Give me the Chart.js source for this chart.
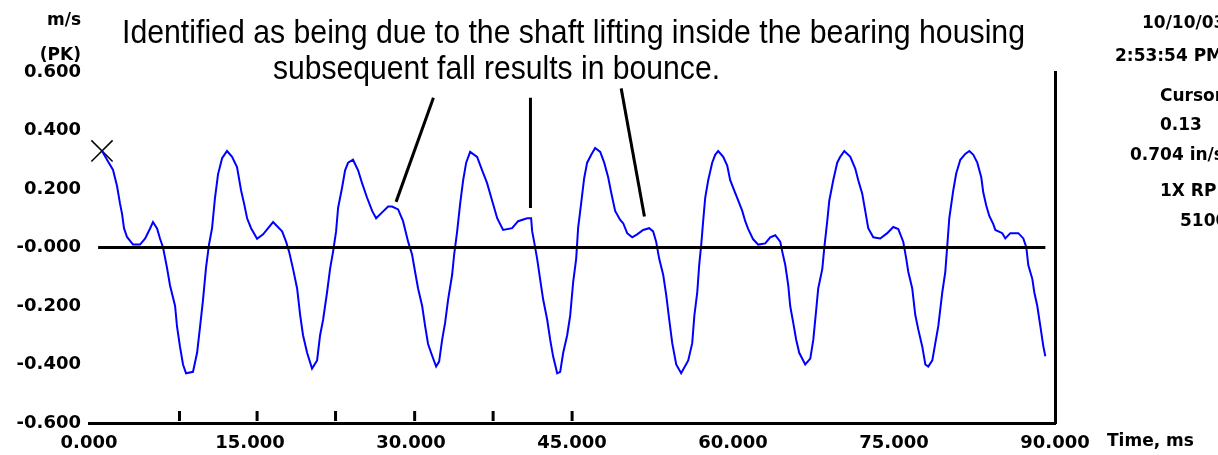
<!DOCTYPE html>
<html>
<head>
<meta charset="utf-8">
<script src="https://cdn.jsdelivr.net/npm/chart.js@4.4.1/dist/chart.umd.min.js"></script>
<style>
  html, body { margin: 0; padding: 0; background: #fff; }
  #wrap { width: 1218px; height: 455px; }
</style>
</head>
<body>
<div id="wrap"><canvas id="chart" width="1218" height="455"></canvas></div>
<script>
// velocity waveform
const timeMs = [
  1.21, 1.68, 2.24, 2.61, 2.89, 3.08, 3.26, 3.54, 4.10, 4.75, 5.22, 5.69, 5.96, 6.34, 6.62, 6.90,
  7.27, 7.55, 8.02, 8.20, 8.48, 8.76, 9.04, 9.69, 10.07, 10.35, 10.62, 10.90, 11.18, 11.46, 11.74,
  12.02, 12.40, 12.86, 13.33, 13.79, 14.17, 14.45, 14.73, 15.10, 15.66, 16.22, 17.15, 17.99, 18.36,
  18.64, 19.01, 19.39, 19.67, 19.94, 20.32, 20.78, 21.25, 21.53, 21.81, 22.18, 22.46, 22.74, 23.02,
  23.21, 23.58, 23.86, 24.14, 24.60, 25.07, 25.44, 25.91, 26.38, 26.75, 27.31, 27.87, 28.24, 28.80,
  29.26, 29.73, 30.10, 30.38, 30.66, 31.04, 31.32, 31.59, 31.97, 32.34, 32.62, 32.90, 33.18, 33.46,
  33.83, 34.02, 34.30, 34.58, 34.86, 35.14, 35.51, 36.16, 36.63, 37.09, 37.56, 38.03, 38.58, 39.42,
  39.98, 40.82, 41.19, 41.29, 41.47, 41.75, 42.03, 42.31, 42.69, 42.97, 43.24, 43.62, 43.90, 44.18,
  44.55, 44.83, 45.11, 45.39, 45.57, 45.85, 46.13, 46.41, 46.79, 47.16, 47.63, 48.00, 48.37, 48.65,
  49.02, 49.49, 49.77, 50.14, 50.61, 51.07, 51.63, 52.19, 52.56, 52.84, 53.12, 53.50, 53.78, 54.06,
  54.34, 54.71, 55.17, 55.83, 56.20, 56.40, 56.67, 56.85, 57.04, 57.22, 57.41, 57.69, 58.06, 58.34,
  58.62, 59.09, 59.46, 59.74, 60.11, 60.39, 60.86, 61.14, 61.42, 61.88, 62.35, 63.00, 63.47, 63.94,
  64.40, 64.59, 64.87, 65.15, 65.33, 65.61, 65.89, 66.17, 66.73, 67.20, 67.48, 67.76, 67.94, 68.32,
  68.50, 68.78, 68.97, 69.34, 69.71, 69.99, 70.37, 70.93, 71.39, 71.67, 72.04, 72.32, 72.60, 73.07,
  73.72, 74.37, 74.93, 75.40, 75.86, 76.14, 76.33, 76.70, 76.98, 77.26, 77.64, 77.92, 78.19, 78.57,
  78.85, 79.13, 79.50, 79.78, 79.97, 80.15, 80.52, 80.80, 81.18, 81.64, 82.02, 82.39, 82.76, 83.13,
  83.32, 83.60, 83.88, 84.25, 84.44, 85.09, 85.37, 85.84, 86.58, 87.05, 87.33, 87.51, 87.89, 88.07,
  88.35, 88.63, 88.91, 89.10
];
const velocity = [
  0.330, 0.300, 0.265, 0.210, 0.150, 0.115, 0.066, 0.036, 0.010, 0.010, 0.030, 0.065, 0.087, 0.065, 0.030, 0.000,
  -0.070, -0.130, -0.200, -0.270, -0.340, -0.400, -0.430, -0.425, -0.360, -0.270, -0.180, -0.070, 0.010, 0.065, 0.170,
  0.250, 0.305, 0.330, 0.310, 0.275, 0.195, 0.150, 0.100, 0.066, 0.030, 0.045, 0.087, 0.055, 0.020,
  -0.014, -0.073, -0.140, -0.230, -0.300, -0.360, -0.414, -0.386, -0.300, -0.247, -0.153, -0.073, -0.014, 0.055,
  0.136, 0.205, 0.264, 0.290, 0.300, 0.264, 0.220, 0.170, 0.125, 0.100, 0.120, 0.140, 0.140, 0.130,
  0.090, 0.020, -0.024, -0.083, -0.140, -0.200, -0.270, -0.330, -0.370, -0.407, -0.390, -0.316, -0.257, -0.177,
  -0.094, -0.024, 0.055, 0.150, 0.230, 0.290, 0.327, 0.310, 0.264, 0.220, 0.160, 0.100, 0.060, 0.066,
  0.090, 0.100, 0.100, 0.055, 0.020, -0.038, -0.108, -0.177, -0.247, -0.316, -0.372, -0.430, -0.425, -0.360,
  -0.300, -0.233, -0.118, -0.038, 0.066, 0.150, 0.236, 0.290, 0.317, 0.340, 0.327, 0.290, 0.240, 0.188,
  0.125, 0.094, 0.083, 0.049, 0.035, 0.045, 0.060, 0.066, 0.055, 0.020, -0.038, -0.094, -0.163, -0.247,
  -0.327, -0.400, -0.430, -0.386, -0.327, -0.233, -0.153, -0.060, 0.010, 0.090, 0.170, 0.230, 0.290, 0.317,
  0.330, 0.310, 0.280, 0.230, 0.195, 0.170, 0.125, 0.090, 0.063, 0.028, 0.010, 0.014, 0.035, 0.042,
  0.020, -0.014, -0.060, -0.130, -0.200, -0.257, -0.316, -0.360, -0.400, -0.380, -0.316, -0.210, -0.140, -0.073,
  -0.003, 0.090, 0.160, 0.230, 0.290, 0.310, 0.330, 0.310, 0.270, 0.230, 0.184, 0.125, 0.066, 0.035,
  0.031, 0.049, 0.070, 0.063, 0.020, -0.038, -0.083, -0.140, -0.230, -0.280, -0.340, -0.400, -0.407, -0.386,
  -0.327, -0.268, -0.153, -0.083, 0.010, 0.100, 0.195, 0.254, 0.300, 0.320, 0.330, 0.317, 0.290, 0.240,
  0.188, 0.143, 0.108, 0.080, 0.060, 0.049, 0.031, 0.049, 0.049, 0.031, 0.000, -0.060, -0.108, -0.153,
  -0.200, -0.268, -0.337, -0.372
];

const xTickValues = [0, 15, 30, 45, 60, 75, 90];
const yTickValues = [0.6, 0.4, 0.2, 0, -0.2, -0.4, -0.6];
const yTickLabels = ['0.600', '0.400', '0.200', '-0.000', '-0.200', '-0.400', '-0.600'];

// once-per-rev marks along the bottom of the plot
const revMarksMs = [8.43, 15.66, 22.97, 30.34, 37.65, 45.01];
const revMarkLevel = -0.576;
const zeroLineMs = [0.85, 89.1];

const noteLines = [
  'Identified as being due to the shaft lifting inside the bearing housing',
  'subsequent fall results in bounce.'
];
// pointer lines from the note down to the bounces: [start, end]
const noteArrowsMs = [[32.09, 28.61], [41.13, 41.13], [49.58, 51.75]];
const noteArrowsVal = [[0.512, 0.156], [0.512, 0.135], [0.544, 0.106]];

const yAxisTitle = ['m/s', '(PK)'];
const xAxisTitle = 'Time, ms';
const sideInfo = ['10/10/03', '2:53:54 PM', 'Cursor', '0.13', '0.704 in/s', '1X RPM', '5100'];

const TICK_FONT = { family: 'DejaVu Sans', size: 18, weight: 'bold' };
const SIDE_POS = [[1142, 24], [1115, 57], [1160, 97], [1160, 126], [1130, 156], [1160, 192], [1180, 222]];

function fitText(ctx, text, x, y, width) {
  const w = ctx.measureText(text).width;
  ctx.save();
  ctx.translate(x, y);
  ctx.scale(width / w, 1);
  ctx.fillText(text, 0, 0);
  ctx.restore();
}

const decorPlugin = {
  id: 'decor',
  afterDatasetsDraw(chart) {
    const { ctx, scales: { x, y } } = chart;
    ctx.save();
    ctx.strokeStyle = '#000';
    ctx.lineWidth = 3;
    noteArrowsMs.forEach((xs, i) => {
      ctx.beginPath();
      ctx.moveTo(x.getPixelForValue(xs[0]), y.getPixelForValue(noteArrowsVal[i][0]));
      ctx.lineTo(x.getPixelForValue(xs[1]), y.getPixelForValue(noteArrowsVal[i][1]));
      ctx.stroke();
    });
    ctx.restore();
  },
  afterDraw(chart) {
    const { ctx } = chart;
    ctx.save();
    ctx.fillStyle = '#000';
    ctx.textBaseline = 'alphabetic';
    ctx.textAlign = 'left';
    // caption is drawn tall and narrow like the original
    ctx.font = '34px "Liberation Sans", Arial, sans-serif';
    fitText(ctx, noteLines[0], 122, 43, 903);
    fitText(ctx, noteLines[1], 273, 79, 447);

    ctx.font = 'bold 17px "DejaVu Sans", sans-serif';
    ctx.textAlign = 'right';
    ctx.fillText(yAxisTitle[0], 81, 25);
    ctx.fillText(yAxisTitle[1], 81, 60);

    ctx.textAlign = 'left';
    ctx.textBaseline = 'middle';
    ctx.fillText(xAxisTitle, 1107, 442);
    sideInfo.forEach((txt, i) => ctx.fillText(txt, SIDE_POS[i][0], SIDE_POS[i][1]));
    ctx.restore();
  }
};

const trace = timeMs.map((t, i) => ({ x: t, y: velocity[i] }));

new Chart(document.getElementById('chart'), {
  type: 'line',
  data: {
    datasets: [
      {
        label: 'zero',
        data: zeroLineMs.map(t => ({ x: t, y: 0 })),
        borderColor: '#000',
        borderWidth: 3,
        pointRadius: 0,
        order: 0
      },
      {
        label: 'velocity',
        data: trace,
        borderColor: '#0000ff',
        borderWidth: 2,
        pointRadius: 0,
        tension: 0,
        order: 1
      },
      {
        label: 'cursor',
        data: [trace[0]],
        showLine: false,
        pointStyle: 'crossRot',
        pointRadius: 15,
        borderColor: '#000',
        borderWidth: 1.5,
        order: 2
      },
      {
        label: 'rev',
        data: revMarksMs.map(t => ({ x: t, y: revMarkLevel })),
        showLine: false,
        pointStyle: 'line',
        rotation: 90,
        pointRadius: 5,
        borderColor: '#000',
        borderWidth: 3,
        order: 3
      }
    ]
  },
  options: {
    responsive: false,
    animation: false,
    events: [],
    layout: { padding: { top: 72, right: 163, left: 0, bottom: 0 } },
    plugins: { legend: { display: false }, tooltip: { enabled: false } },
    scales: {
      x: {
        type: 'linear',
        min: 0,
        max: 90,
        afterBuildTicks: axis => { axis.ticks = xTickValues.map(v => ({ value: v })); },
        afterFit: axis => { axis.height = 32; },
        ticks: {
          callback: v => Number(v).toFixed(3),
          color: '#000',
          font: TICK_FONT,
          padding: 10,
          maxRotation: 0,
          autoSkip: false
        },
        grid: { display: false, drawTicks: false },
        border: { display: true, color: '#000', width: 3 }
      },
      y: {
        min: -0.6,
        max: 0.6,
        afterBuildTicks: axis => { axis.ticks = yTickValues.map(v => ({ value: v })); },
        afterFit: axis => { axis.width = 89; },
        ticks: {
          callback: v => yTickLabels[yTickValues.findIndex(t => Math.abs(t - v) < 1e-6)],
          color: '#000',
          font: TICK_FONT,
          padding: 8
        },
        grid: { display: false, drawTicks: false },
        border: { display: false }
      },
      yRight: {
        position: 'right',
        min: -0.6,
        max: 0.6,
        afterFit: axis => { axis.width = 0; },
        ticks: { display: false },
        grid: { display: false, drawTicks: false },
        border: { display: true, color: '#000', width: 3 }
      }
    }
  },
  plugins: [decorPlugin]
});
</script>
</body>
</html>
